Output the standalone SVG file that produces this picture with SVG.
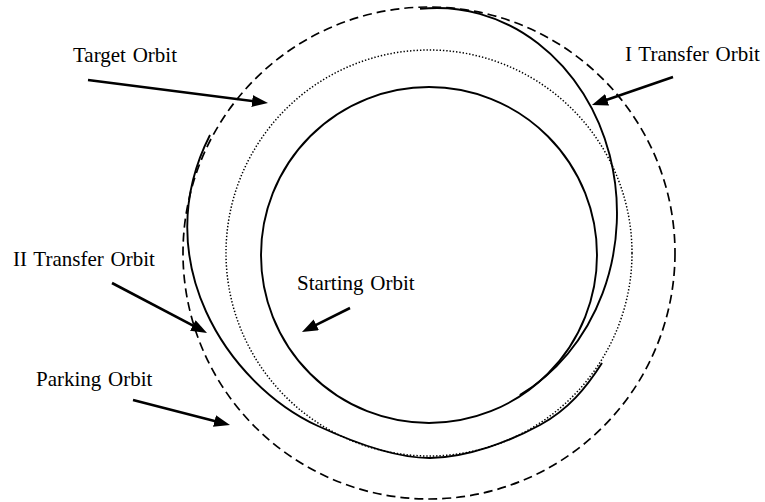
<svg xmlns="http://www.w3.org/2000/svg" width="765" height="502" viewBox="0 0 765 502">
<style>
.lbl{font-family:"Liberation Serif","Times New Roman",serif;font-size:21px;fill:#000;word-spacing:1.5px}
.solid{fill:none;stroke:#000;stroke-width:1.9}
.dash{fill:none;stroke:#000;stroke-width:1.7;stroke-dasharray:9 5}
.dot{fill:none;stroke:#000;stroke-width:1.5;stroke-dasharray:1.4 1.9}
.arr{fill:none;stroke:#000;stroke-width:2.6;marker-end:url(#ah)}
</style>
<defs>
<marker id="ah" viewBox="0 0 16 12" refX="4" refY="6" markerWidth="16" markerHeight="12" markerUnits="userSpaceOnUse" orient="auto">
<path d="M0,0 L16,6 L0,12 z" fill="#000"/>
</marker>
</defs>
<rect width="765" height="502" fill="#fff"/>
<g id="parking-orbit"><circle class="dash" cx="429" cy="253" r="246"/></g>
<g id="target-orbit"><circle class="dot" cx="429" cy="253" r="203"/></g>
<g id="starting-orbit"><circle class="solid" cx="429" cy="255" r="168"/></g>
<g id="transfer-orbit-1"><path class="solid" d="M420,8.9 A180 205 0 0 1 519.8,395"/></g>
<g id="transfer-orbit-2"><path class="solid" d="M210,135 C146.4,259.7 227,384 318,426 C348.3,440 393,458.2 430,458 C467,457.8 511.3,440.8 540,425 C568.7,409.2 586.3,387.7 602,363"/></g>
<g id="labels">
<text class="lbl" x="73" y="62">Target Orbit</text>
<text class="lbl" x="625" y="61">I Transfer Orbit</text>
<text class="lbl" x="13" y="266">II Transfer Orbit</text>
<text class="lbl" x="36" y="386">Parking Orbit</text>
<text class="lbl" x="297" y="290">Starting Orbit</text>
</g>
<g id="connectors">
<line class="arr" x1="88" y1="80" x2="256.1" y2="101.5"/>
<line class="arr" x1="673" y1="77" x2="603.3" y2="101.1"/>
<line class="arr" x1="112" y1="283" x2="196.4" y2="327.4"/>
<line class="arr" x1="133" y1="400" x2="218.4" y2="422"/>
<line class="arr" x1="350" y1="308" x2="312.7" y2="326.6"/>
</g>
</svg>
